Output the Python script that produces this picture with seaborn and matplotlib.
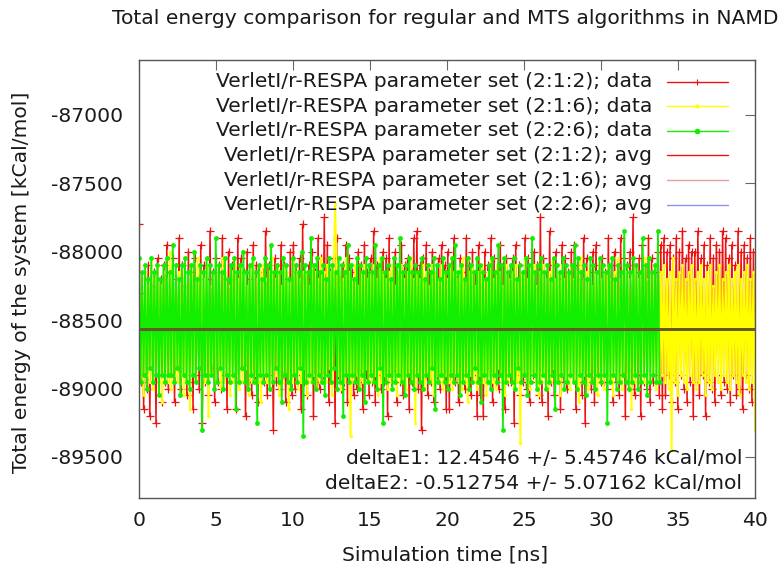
import numpy as np
import pandas as pd
import matplotlib
matplotlib.use("Agg")
import matplotlib.pyplot as plt
import seaborn as sns
from matplotlib.lines import Line2D

# ---------------- data (read/estimated from the reference) ----------------
red_span = [0.0, 40.0]
yellow_span = [0.0, 40.0]
green_span = [0.0, 33.8]

red_vals = [
    -87800, -88950, -88300, -89150, -88200, -89000, -88100, -89200, -88250, -88950, -88150, -89250, -88050, -88900, -88200, -89100, -88100, -88950, -87950, -89000,
    -88150, -88900, -88050, -89100, -88200, -88850, -87900, -89000, -88100, -88900, -88250, -89050, -88000, -88950, -88150, -89150, -88050, -88900, -88200, -89000,
    -87950, -89250, -88100, -88950, -88200, -89050, -87850, -88850, -88150, -89100, -88050, -88950, -88100, -89000, -87900, -88900, -88200, -89150, -88000, -88950,
    -88100, -88900, -88200, -89150, -87900, -88950, -88050, -88850, -88150, -89200, -88000, -88950, -88200, -89050, -87950, -88900, -88100, -89100, -88150, -88950,
    -88150, -88950, -87850, -89050, -88100, -88900, -88200, -89300, -88050, -88950, -88150, -89000, -87950, -88900, -88100, -89100, -88200, -88950, -88000, -89050,
    -87950, -89000, -88150, -88900, -88050, -89150, -87800, -88950, -88200, -89050, -88100, -88900, -88000, -89200, -88150, -88950, -87900, -89000, -88050, -88900,
    -87750, -88850, -87950, -89100, -88150, -88950, -88050, -89250, -87900, -88900, -88200, -89000, -88100, -88950, -87950, -89100, -88050, -88900, -88150, -89050,
    -88200, -89000, -88000, -88950, -88100, -89150, -87950, -88900, -88150, -89050, -88050, -88950, -87850, -89100, -88100, -88900, -88200, -89000, -88000, -88950,
    -88050, -89200, -87900, -88950, -88150, -88850, -88000, -89100, -88200, -88950, -87950, -89050, -88100, -88900, -88050, -89150, -88150, -88950, -87900, -89000,
    -87850, -89000, -88100, -89300, -88050, -88900, -87950, -89050, -88150, -88950, -88000, -89100, -88200, -88900, -88050, -89000, -87950, -88950, -88100, -89150,
    -88000, -89150, -88100, -88900, -87900, -88950, -88200, -89100, -88050, -88900, -88150, -89000, -87900, -88950, -88100, -89050, -88000, -88900, -88150, -89200,
    -87950, -89050, -88150, -89200, -88000, -88950, -88100, -88850, -87900, -89100, -88050, -88950, -88200, -89000, -87950, -88900, -88100, -89150, -88050, -88950,
    -88150, -88950, -88050, -89250, -87950, -88900, -88100, -89050, -88200, -88950, -87900, -89000, -88050, -89100, -88150, -88900, -88000, -88950, -88100, -89050,
    -87750, -89100, -88050, -88900, -88150, -89200, -87850, -88950, -88100, -89050, -88000, -88900, -88200, -89150, -87950, -88950, -88050, -89000, -88150, -88900,
    -88000, -88900, -87950, -89150, -88100, -88950, -88200, -89050, -87900, -89250, -88050, -88950, -88150, -89000, -88000, -89100, -87950, -88900, -88100, -88950,
    -88050, -88950, -88150, -89000, -87900, -88900, -88100, -89100, -88000, -88950, -88150, -89050, -87900, -88900, -88050, -89200, -88100, -88950, -88000, -89000,
    -87750, -89050, -88150, -88900, -88050, -89200, -87950, -88950, -88100, -89000, -87900, -89100, -88050, -88950, -88150, -88900, -88000, -89050, -87950, -89150,
    -87900, -89050, -88000, -88900, -87950, -89100, -88050, -88950, -87900, -89150, -88000, -88900, -87850, -89000, -88050, -89100, -87950, -88950, -88000, -89200,
    -88000, -88950, -87850, -89050, -88050, -88900, -87950, -89200, -88100, -88950, -87900, -89000, -88050, -89100, -87950, -88900, -88000, -89050, -87850, -88950,
    -87900, -89000, -88050, -89100, -87950, -88900, -88100, -89050, -87850, -89000, -88000, -89150, -87950, -88900, -88050, -89000, -87900, -89100, -88000, -88950,
]

yellow_vals = [
    -88100, -88950, -88200, -89050, -88150, -88900, -88250, -88950, -88050, -89000, -88200, -88900, -88100, -88950, -88250, -89100, -88150, -88850, -88200, -88950,
    -88000, -89000, -88150, -88900, -88200, -88950, -88150, -88900, -88100, -89050, -88250, -88950, -88150, -89150, -88100, -88900, -88200, -88950, -88050, -88850,
    -88150, -89000, -88200, -88950, -88100, -89200, -88250, -88900, -88150, -88950, -88100, -88850, -88200, -89000, -88050, -88950, -88150, -88900, -88250, -89050,
    -88150, -88950, -88100, -88900, -88200, -89000, -88100, -88950, -88150, -88850, -88250, -89050, -88100, -88950, -88050, -88900, -88200, -88950, -88150, -89100,
    -88100, -88900, -88200, -88950, -88150, -89000, -88050, -88950, -88200, -88900, -88100, -89050, -88250, -88950, -88100, -88900, -88150, -89150, -88200, -88950,
    -88050, -88900, -88150, -89000, -88200, -88950, -88150, -88850, -88150, -89050, -88250, -88950, -88100, -88900, -88150, -89000, -88200, -88950, -88050, -88900,
    -88150, -88950, -88100, -88850, -88150, -89050, -88250, -87650, -88100, -88900, -88150, -89000, -88200, -88950, -88050, -88900, -88150, -89350, -88200, -88950,
    -88100, -88900, -88250, -89000, -88150, -88950, -88100, -88850, -88200, -88950, -88150, -88950, -88100, -88900, -88200, -89050, -88050, -88950, -88150, -88900,
    -88200, -89000, -88150, -88950, -88100, -88900, -88250, -89050, -88150, -88950, -88100, -88950, -88200, -89000, -88150, -88900, -88050, -88950, -88200, -89250,
    -88150, -88900, -88200, -88950, -88100, -89000, -88150, -88900, -88250, -88950, -88100, -89050, -88150, -88900, -88200, -88950, -88100, -89000, -88150, -88900,
    -88200, -88950, -88100, -89000, -88150, -88900, -88200, -88950, -88100, -89000, -88050, -88950, -88200, -89100, -88150, -88900, -88100, -88950, -88250, -89000,
    -88150, -88900, -88100, -88950, -88200, -89050, -88150, -88900, -88050, -88950, -88200, -89000, -88100, -88850, -88150, -88950, -88250, -89050, -88100, -88950,
    -88200, -88900, -88150, -89000, -88100, -88950, -88200, -89400, -88150, -88900, -88050, -88950, -88200, -89000, -88150, -88900, -88100, -88950, -88250, -89050,
    -88150, -88950, -88100, -88900, -88200, -89000, -88150, -88950, -88050, -88850, -88200, -88950, -88150, -89050, -88100, -88900, -88200, -88950, -88150, -89000,
    -88100, -88900, -88200, -88950, -88150, -89100, -88050, -88950, -88200, -88900, -88150, -89000, -88100, -88950, -88250, -88900, -88150, -89050, -88100, -88950,
    -88200, -89000, -88150, -88900, -88100, -88950, -88200, -89050, -88150, -88900, -88050, -88950, -88200, -89000, -88100, -88900, -88150, -88950, -88200, -89150,
    -88150, -88950, -88100, -89000, -88200, -88900, -88150, -88950, -88050, -88950, -88200, -88950, -88150, -88900, -88100, -89000, -88200, -88950, -88150, -88900,
    -88100, -88950, -88200, -89000, -88150, -89450, -88050, -88950, -88200, -89050, -88150, -88900, -88100, -88950, -88200, -89000, -88150, -88900, -88100, -88950,
    -88200, -89000, -88150, -88950, -88100, -88900, -88200, -89050, -88150, -88950, -88100, -89000, -88250, -88900, -88150, -88950, -88100, -89000, -88200, -88900,
    -88150, -88950, -88100, -89000, -88200, -88900, -88150, -88950, -88100, -89050, -88200, -88900, -88150, -88950, -88100, -89000, -88200, -88950, -88150, -89300,
]

green_vals = [
    -88050, -88950, -88150, -88900, -88100, -89000, -88200, -88850, -88050, -88950, -88150, -88900, -88100, -89050, -88200, -88900, -88100, -88950, -88050, -88900,
    -88150, -88900, -87950, -88950, -88100, -88850, -88200, -89050, -88100, -88900, -88050, -88950, -88150, -89000, -88100, -88900, -88000, -88950, -88200, -88850,
    -88100, -89300, -88150, -88900, -88050, -88950, -88100, -88900, -88150, -89000, -87900, -88950, -88100, -88850, -88150, -89000, -88050, -88900, -88200, -88950,
    -88100, -88900, -88050, -89150, -88150, -88950, -88100, -88850, -88000, -88950, -88150, -89000, -88100, -88900, -88050, -88950, -88150, -89250, -88100, -88900,
    -88200, -88950, -88050, -88900, -88100, -89000, -87950, -88950, -88150, -88850, -88100, -88950, -88150, -89100, -88050, -88900, -88100, -88950, -88200, -89000,
    -88050, -88900, -88100, -88950, -88150, -88850, -88000, -89350, -88100, -88950, -88150, -88900, -87900, -88950, -88100, -89000, -88050, -88900, -88150, -88950,
    -88100, -89050, -88200, -88900, -88050, -88950, -88100, -88850, -88150, -89000, -88050, -88950, -88100, -89200, -88150, -88900, -87950, -88950, -88100, -88900,
    -88200, -88950, -88050, -89000, -88100, -88900, -88150, -89100, -88050, -88950, -88100, -88900, -88150, -88950, -87950, -89000, -88100, -88850, -88050, -89250,
    -88150, -88950, -88100, -88900, -88200, -89000, -88050, -88950, -88100, -88900, -87900, -88950, -88150, -89050, -88100, -88900, -88050, -88950, -88150, -89000,
    -88100, -88900, -88150, -88950, -88050, -89000, -88200, -88900, -88100, -88950, -88150, -88850, -88050, -89150, -88100, -88950, -88200, -88900, -88050, -88950,
    -88150, -89000, -88100, -88900, -88050, -88950, -87950, -88900, -88150, -89050, -88100, -88950, -88200, -88900, -88050, -89000, -88100, -88950, -88150, -88850,
    -88050, -88950, -88100, -89100, -88150, -88900, -88200, -88950, -88100, -89000, -88050, -88900, -88150, -88950, -87950, -88900, -88100, -89300, -88050, -88950,
    -88150, -88900, -88100, -88950, -88050, -89000, -88200, -88850, -88100, -88950, -88150, -88900, -88050, -89050, -88100, -88950, -87900, -88900, -88150, -89000,
    -88100, -88950, -88050, -88900, -88150, -89000, -88100, -88950, -88200, -88900, -88050, -89150, -88100, -88950, -88150, -88900, -88050, -89000, -88100, -88950,
    -88150, -88900, -88100, -88950, -87950, -89000, -88050, -88900, -88150, -88950, -88100, -89050, -88200, -88900, -88050, -88950, -88100, -89000, -88150, -88900,
    -88050, -88950, -88100, -88900, -88150, -89250, -88100, -88950, -88050, -88900, -88200, -89000, -88100, -88950, -88150, -88900, -87850, -88950, -88100, -89000,
    -88150, -88950, -88050, -88900, -88100, -89000, -88150, -88950, -87900, -88900, -88100, -89050, -88050, -88950, -88150, -88900, -88100, -88950, -87850, -88950,
]

avg_vals = [-88566, -88568, -88565]

series_labels = [
    "VerletI/r-RESPA parameter set (2:1:2); data",
    "VerletI/r-RESPA parameter set (2:1:6); data",
    "VerletI/r-RESPA parameter set (2:2:6); data",
    "VerletI/r-RESPA parameter set (2:1:2); avg",
    "VerletI/r-RESPA parameter set (2:1:6); avg",
    "VerletI/r-RESPA parameter set (2:2:6); avg",
]
delta_texts = [
    "deltaE1: 12.4546 +/- 5.45746 kCal/mol",
    "deltaE2: -0.512754 +/- 5.07162 kCal/mol",
]
xticks = [0, 5, 10, 15, 20, 25, 30, 35, 40]
yticks = [-87000, -87500, -88000, -88500, -89000, -89500]

# ---------------- styling ----------------
sns.set_style("white")
plt.rcParams["font.family"] = ["DejaVu Sans"]

FS = 14.6
TXT = "#1a1a1a"
c_red, c_yel, c_grn = "#ee1111", "#ffff00", "#11ee00"
c_avg_leg = ["#ee1111", "#e0a0a0", "#9090ee"]
c_avg_line = "#66582a"

fig = plt.figure(figsize=(7.84, 5.68), dpi=100)
ax = fig.add_axes([139 / 784, 70 / 568, 616 / 784, 438 / 568])

def frame(span, vals):
    return pd.DataFrame({"t": np.linspace(span[0], span[1], len(vals)), "E": vals})

d_red = frame(red_span, red_vals)
d_yel = frame(yellow_span, yellow_vals)
d_grn = frame(green_span, green_vals)

sns.lineplot(data=d_red, x="t", y="E", ax=ax, color=c_red, lw=1.1,
             marker="+", markersize=5.5, markeredgewidth=0.9,
             markeredgecolor=c_red, estimator=None, sort=False, legend=False)
sns.lineplot(data=d_yel, x="t", y="E", ax=ax, color=c_yel, lw=1.4,
             marker="o", markersize=2.4, markeredgewidth=0,
             markerfacecolor=c_yel, estimator=None, sort=False, legend=False)
sns.lineplot(data=d_grn, x="t", y="E", ax=ax, color=c_grn, lw=1.3,
             marker="o", markersize=3.5, markeredgewidth=0,
             markerfacecolor=c_grn, estimator=None, sort=False, legend=False)

for a in avg_vals:
    sns.lineplot(x=[0, 40], y=[a, a], ax=ax, color=c_avg_line, lw=1.8,
                 estimator=None, legend=False)

ax.set_xlim(0, 40)
ax.set_ylim(-89800, -86600)
ax.set_xticks(xticks)
ax.set_yticks(yticks)
ax.set_xticklabels([str(v) for v in xticks])
ax.set_yticklabels([str(v) for v in yticks])
ax.tick_params(axis="both", direction="in", length=7, width=0.8, color="#666666",
               top=True, right=True, labelsize=FS, labelcolor=TXT)
ax.tick_params(axis="y", pad=11.5)
ax.tick_params(axis="x", pad=9.5)
for s in ax.spines.values():
    s.set_color("#555555")
    s.set_linewidth(1.0)
ax.set_xlabel("")
ax.set_ylabel("")

# manual gnuplot-style key (text right-aligned, sample on the right)
key_y = [0.950, 0.894, 0.838, 0.782, 0.726, 0.670]
key_styles = [
    dict(color=c_red, marker="+", markersize=5, markeredgewidth=0.8),
    dict(color=c_yel, marker="o", markersize=3, markeredgewidth=0),
    dict(color=c_grn, marker="o", markersize=4, markeredgewidth=0),
    dict(color=c_avg_leg[0]),
    dict(color=c_avg_leg[1]),
    dict(color=c_avg_leg[2]),
]
for lab, yy, st in zip(series_labels, key_y, key_styles):
    ax.text(0.833, yy, lab, transform=ax.transAxes, ha="right", va="center",
            fontsize=FS, color=TXT)
    ax.add_line(Line2D([0.857, 0.956], [yy, yy], transform=ax.transAxes, lw=1.0,
                       color=st["color"]))
    if "marker" in st:
        ax.add_line(Line2D([0.9065], [yy], transform=ax.transAxes, lw=0,
                           color=st["color"], marker=st["marker"],
                           markersize=st["markersize"],
                           markeredgewidth=st["markeredgewidth"]))

ax.text(0.979, 0.091, delta_texts[0], transform=ax.transAxes, ha="right",
        va="center", fontsize=FS, color=TXT)
ax.text(0.979, 0.032, delta_texts[1], transform=ax.transAxes, ha="right",
        va="center", fontsize=FS, color=TXT)

fig.text(445 / 784, 1 - 18 / 568, "Total energy comparison for regular and MTS algorithms in NAMD",
         ha="center", va="center", fontsize=FS, color=TXT)
fig.text(445 / 784, 1 - 555 / 568, "Simulation time [ns]", ha="center", va="center",
         fontsize=FS, color=TXT)
fig.text(22 / 784, 1 - 282 / 568, "Total energy of the system [kCal/mol]", ha="center",
         va="center", rotation=90, fontsize=FS, color=TXT)

fig.savefig("out.png", dpi=100)
